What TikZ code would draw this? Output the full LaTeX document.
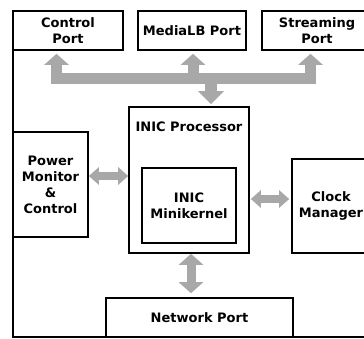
\documentclass[tikz,border=0pt]{standalone}
\usepackage{fontspec}
\setmainfont{DejaVu Sans}
\usetikzlibrary{arrows.meta}
\definecolor{arrgray}{HTML}{A8A8A8}
\begin{document}
\begin{tikzpicture}[x=1pt,y=-1pt,
  box/.style={draw, line width=1.6pt, fill=white, align=center, inner sep=0pt,
    font=\bfseries\fontsize{13}{16}\selectfont},
  lbl/.style={align=center, inner sep=0pt, font=\bfseries\fontsize{13}{16}\selectfont},
  frame/.style={draw, line width=1.6pt},
  bar/.style={draw=arrgray, line width=11pt},
  upstem/.style={draw=arrgray, line width=11pt, -{Triangle[width=24pt,length=11pt]}},
  sidelink/.style={draw=arrgray, line width=8pt, {Triangle[width=17pt,length=10pt]}-{Triangle[width=17pt,length=10pt]}},
  vlink/.style={draw=arrgray, line width=9pt, {Triangle[width=24pt,length=11pt]}-{Triangle[width=24pt,length=11pt]}}
]
\useasboundingbox (0,0) rectangle (364,338);
\clip (0,0) rectangle (364,338);
\fill[white] (0,0) rectangle (364,338);
% outer frame (open at top, right side beyond view)
\coordinate (ftop) at (13,11);
\coordinate (fbl) at (13,337);
\coordinate (fbr) at (390,337);
\draw[frame] (ftop) -- (fbl) -- (fbr);
% ports
\node[box, minimum width=110pt, minimum height=39pt] (cp) at (68,30.5) {Control\\Port};
\node[box, minimum width=108pt, minimum height=39pt] (mlb) at (192,30.5) {MediaLB Port};
\node[box, minimum width=110pt, minimum height=39pt] (sp) at (317,30.5) {Streaming\\Port};
% processor
\node[box, minimum width=120pt, minimum height=146pt] (proc) at (189,180) {};
\node[lbl] (proclbl) at (189,127) {INIC Processor};
\node[box, minimum width=94pt, minimum height=75pt] (mk) at (189,205.5) {INIC\\Minikernel};
% side blocks
\node[box, minimum width=75pt, minimum height=105pt] (pwr) at (50.5,184.5) {Power\\Monitor\\\&\\Control};
\node[box, minimum width=78pt, minimum height=94pt] (clk) at (331,206) {Clock\\Manager};
\node[box, minimum width=187pt, minimum height=39pt] (net) at (199.5,317.5) {Network Port};
% bus
\coordinate (busL) at (51,78.5);
\coordinate (busR) at (316,78.5);
\draw[bar] (busL) -- (busR);
\coordinate (j1) at (56.5,84);
\coordinate (j2) at (193,84);
\coordinate (j3) at (310.5,84);
\coordinate (j4) at (211,73);
\draw[upstem, shorten >=3pt] (j1) -- (j1 |- cp.south);
\draw[upstem, shorten >=3pt] (j2) -- (j2 |- mlb.south);
\draw[upstem, shorten >=3pt] (j3) -- (j3 |- sp.south);
\draw[draw=arrgray, line width=12pt, -{Triangle[width=25pt,length=13pt]}, shorten >=2pt] (j4) -- (j4 |- proc.north);
% side links
\draw[sidelink] ([yshift=8.5pt]pwr.east) -- ([yshift=4pt]proc.west);
\draw[sidelink] ([xshift=1pt,yshift=-19pt]proc.east) -- ([xshift=-2pt,yshift=7pt]clk.west);
\draw[vlink, shorten >=4pt] ([xshift=2pt]proc.south) -- ([xshift=-8.5pt]net.north);
\end{tikzpicture}
\end{document}
